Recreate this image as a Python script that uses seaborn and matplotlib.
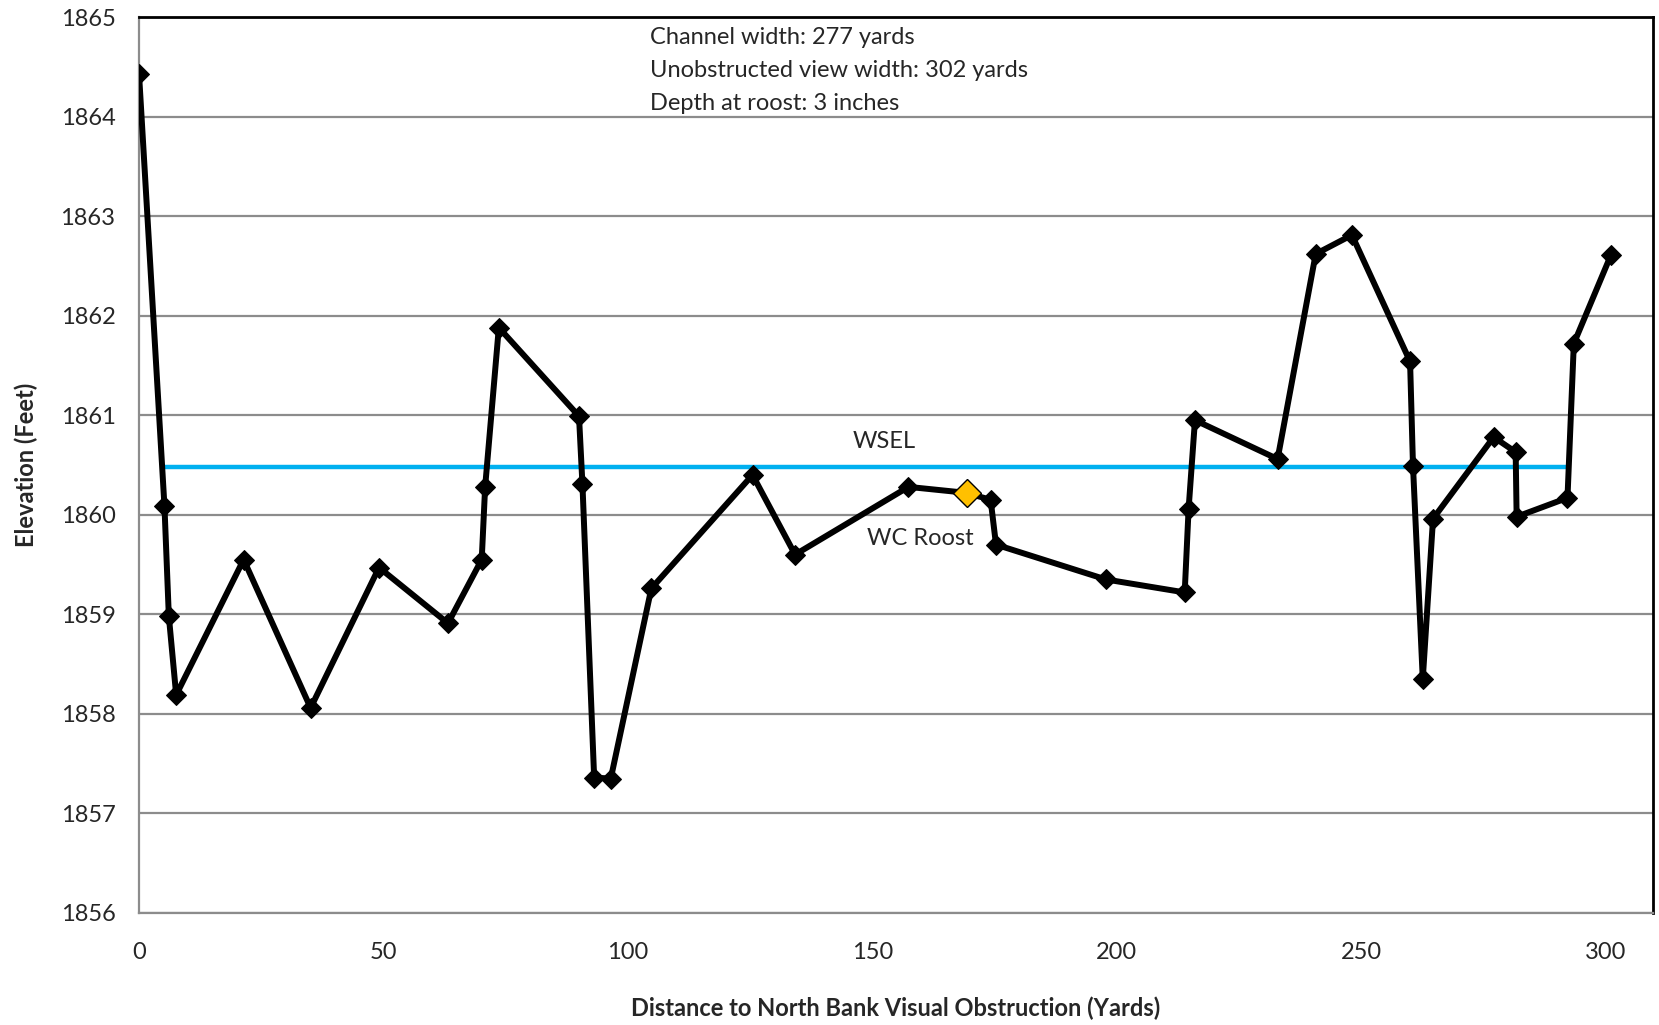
import pandas as pd
import matplotlib.pyplot as plt
import seaborn as sns

# cross-section survey points (distance in yards, elevation in feet)
distance = [0, 5.2, 6.1, 7.6, 21.4, 35.1, 49.1, 63.2, 70.1, 70.8, 73.6, 90.0, 90.7,
            93.1, 96.5, 104.8, 125.5, 134.2, 157.4, 169.3, 174.2, 175.3, 197.8,
            213.9, 214.7, 216.0, 232.9, 240.7, 248.1, 260.0, 260.6, 262.6, 264.7,
            277.1, 281.6, 281.8, 292.2, 293.5, 301.1]
elevation = [1864.43, 1860.09, 1858.98, 1858.19, 1859.55, 1858.06, 1859.47, 1858.91,
             1859.55, 1860.28, 1861.88, 1860.99, 1860.31, 1857.36, 1857.35, 1859.26,
             1860.40, 1859.60, 1860.28, 1860.22, 1860.15, 1859.70, 1859.35, 1859.22,
             1860.06, 1860.95, 1860.56, 1862.62, 1862.81, 1861.54, 1860.49, 1858.35,
             1859.96, 1860.78, 1860.63, 1859.98, 1860.17, 1861.72, 1862.61]

roost_x = [169.3]
roost_y = [1860.22]

wsel_x = [5.2, 291.8]
wsel_y = [1860.48, 1860.48]

notes = ["Channel width: 277 yards",
         "Unobstructed view width: 302 yards",
         "Depth at roost: 3 inches"]

xticks = [0, 50, 100, 150, 200, 250, 300]
yticks = list(range(1856, 1866))

sns.set_style("white")
plt.rcParams['font.family'] = ['Lato', 'DejaVu Sans']

profile = pd.DataFrame({"distance": distance, "elevation": elevation})
wsel = pd.DataFrame({"distance": wsel_x, "elevation": wsel_y})

fig = plt.figure(figsize=(16.59, 10.25), dpi=100)
ax = fig.add_axes([0.0838, 0.1093, 0.9126, 0.8741])

for y in yticks:
    ax.axhline(y, color="#8c8c8c", lw=1.6, zorder=0)

sns.lineplot(data=wsel, x="distance", y="elevation", color="#00B0F0",
             lw=3.2, ax=ax, zorder=2)
sns.lineplot(data=profile, x="distance", y="elevation", sort=False,
             color="black", lw=4.3, marker="D", markersize=10,
             markeredgecolor="black", ax=ax, zorder=3)
ax.plot(roost_x, roost_y, marker="D", markersize=14, color="#FFC000",
        markeredgecolor="black", markeredgewidth=1, ls="none", zorder=4)

fs = 17
ax.text(152.4, 1860.74, "WSEL", fontsize=fs, ha="center", va="center")
ax.text(159.8, 1859.76, "WC Roost", fontsize=fs, ha="center", va="center")
for i, line in enumerate(notes):
    ax.text(104.5, 1864.79 - i * 0.33, line, fontsize=fs, ha="left", va="center")

ax.set_xlim(0, 309.7)
ax.set_ylim(1856, 1865)
ax.set_xticks(xticks)
ax.set_yticks(yticks)
ax.tick_params(axis="both", labelsize=fs, direction="out", length=7,
               width=1.5, color="#8c8c8c", pad=10)
ax.tick_params(axis="x", pad=14)

for side in ["left", "bottom"]:
    ax.spines[side].set_color("#8c8c8c")
    ax.spines[side].set_linewidth(1.6)
for side in ["top", "right"]:
    ax.spines[side].set_color("black")
    ax.spines[side].set_linewidth(2)

ax.set_xlabel("Distance to North Bank Visual Obstruction (Yards)", fontsize=fs,
              fontweight="bold", labelpad=24)
ax.set_ylabel("Elevation (Feet)", fontsize=fs, fontweight="bold", labelpad=16)

fig.savefig("out.png", dpi=100)
